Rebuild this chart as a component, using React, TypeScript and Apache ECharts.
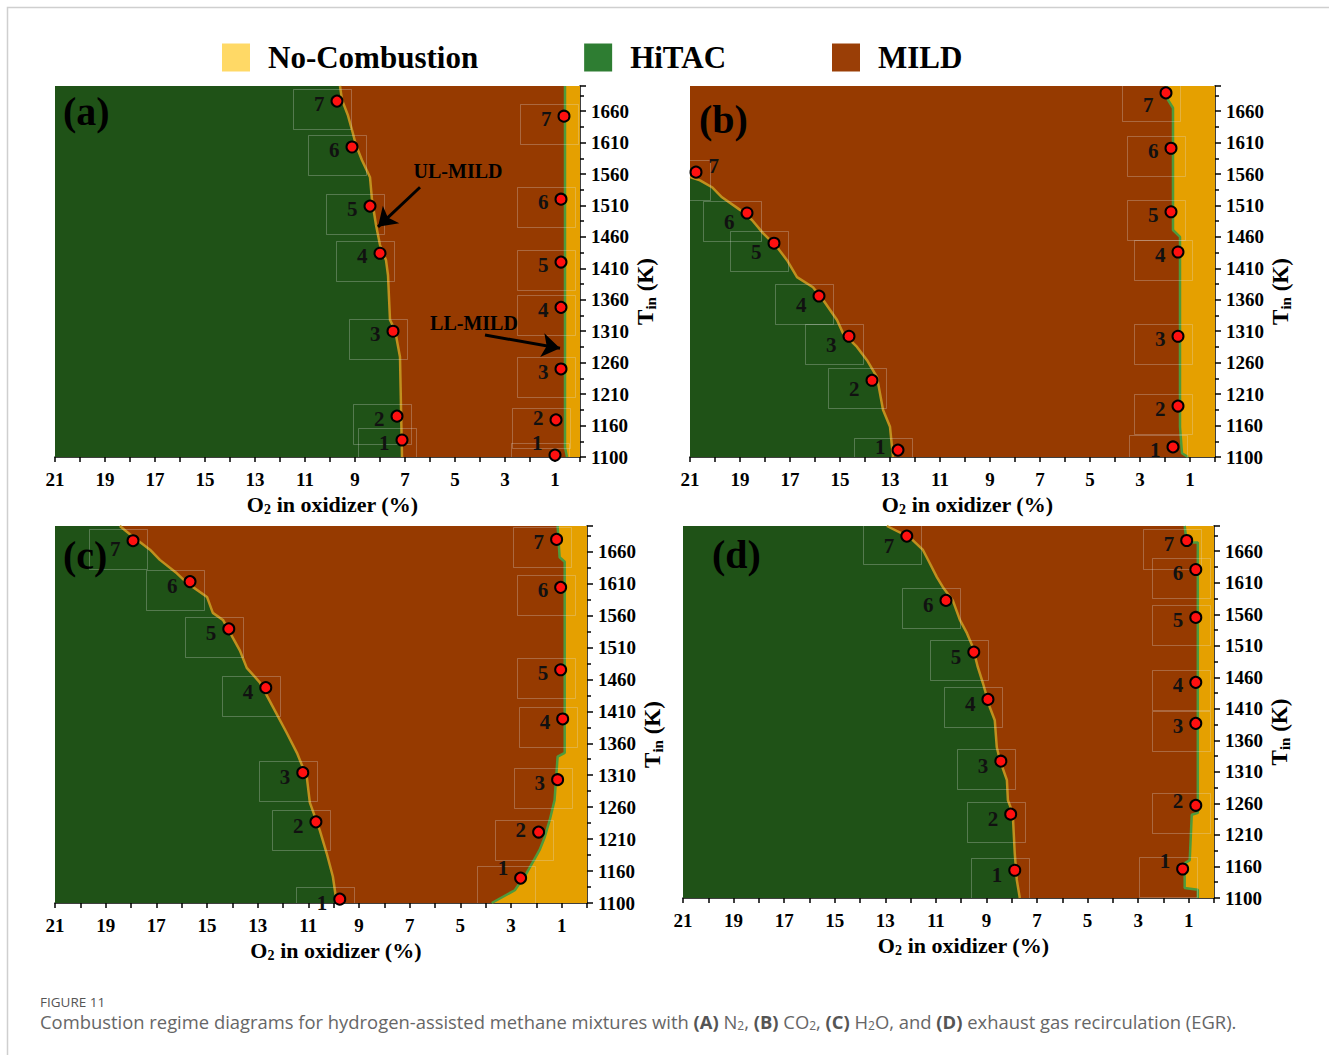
import React, { useEffect, useRef } from 'react';
import * as echarts from 'echarts';

const SERIF = '"Liberation Serif","Times New Roman",serif';
const SANS = '"Open Sans","Noto Sans",sans-serif';

// Temperature axis: bottom of every panel, ticks every 50 K
const T_BASE = 1110;
const T_TOP = 1700;
const T_LABELS = [1100, 1160, 1210, 1260, 1310, 1360, 1410, 1460, 1510, 1560, 1610, 1660];
const O2_MAX = 21;

const REGIMES = ['No-Combustion', 'HiTAC', 'MILD'];
const PANEL_TAGS = ['(a)', '(b)', '(c)', '(d)'];

// ---- Panel (a) N2
const A_HITAC_EDGE = [[9.6, 1700], [9.52, 1678], [9.28, 1653], [9.12, 1630], [8.96, 1606], [8.72, 1582], [8.4, 1555], [8.32, 1519], [8.16, 1479], [8.0, 1447], [7.76, 1423], [7.68, 1399], [7.6, 1328], [7.4, 1312], [7.2, 1269], [7.12, 1110]];
const A_NOCOMB_EDGE = [[0.6, 1700], [0.6, 1125], [0.52, 1110]];
const A_UL_DOTS = [[7.12, 1137], [7.32, 1175], [7.48, 1310], [8.0, 1434], [8.4, 1509], [9.12, 1603], [9.72, 1676]];
const A_LL_DOTS = [[1.0, 1113], [0.96, 1169], [0.76, 1250], [0.76, 1348], [0.76, 1420], [0.76, 1520], [0.64, 1652]];
const A_UL_ARROW = [[6.4, 1539], [8.08, 1476]];
const A_LL_ARROW = [[3.8, 1304], [0.8, 1283]];

// ---- Panel (b) CO2
const B_HITAC_EDGE = [[21, 1555], [20.6, 1550], [20.12, 1539], [19.72, 1523], [19.0, 1503], [18.52, 1487], [18.08, 1466], [17.52, 1444], [17.12, 1423], [16.72, 1396], [16.08, 1380], [15.68, 1360], [15.12, 1328], [14.88, 1307], [14.32, 1285], [13.92, 1264], [13.52, 1237], [13.28, 1185], [13.0, 1158], [12.88, 1110]];
const B_NOCOMB_EDGE = [[1.92, 1700], [1.88, 1678], [1.68, 1665], [1.68, 1471], [1.4, 1460], [1.4, 1158], [1.32, 1116], [1.08, 1110]];
const B_UL_DOTS = [[12.68, 1121], [13.72, 1232], [14.64, 1302], [15.84, 1366], [17.64, 1450], [18.72, 1498], [20.76, 1563]];
const B_LL_DOTS = [[1.68, 1126], [1.48, 1191], [1.48, 1302], [1.48, 1436], [1.76, 1500], [1.76, 1601], [1.96, 1689]];

// ---- Panel (c) H2O
const C_HITAC_EDGE = [[18.44, 1700], [17.92, 1683], [17.25, 1663], [16.86, 1647], [16.19, 1626], [15.79, 1611], [15.0, 1589], [14.77, 1564], [14.37, 1553], [13.7, 1505], [13.43, 1478], [12.91, 1455], [12.4, 1417], [11.85, 1376], [11.45, 1345], [11.06, 1307], [10.94, 1267], [10.55, 1224], [10.27, 1187], [10.03, 1151], [9.88, 1110]];
const C_NOCOMB_EDGE = [[1.16, 1700], [1.08, 1651], [0.88, 1644], [0.88, 1345], [1.16, 1339], [1.28, 1271], [1.47, 1240], [1.67, 1213], [1.87, 1193], [2.14, 1174], [2.38, 1157], [2.85, 1130], [3.76, 1110]];
const C_UL_DOTS = [[9.76, 1116], [10.7, 1237], [11.22, 1314], [12.68, 1447], [14.14, 1539], [15.67, 1613], [17.92, 1677]];
const C_LL_DOTS = [[2.62, 1149], [1.91, 1221], [1.16, 1303], [0.96, 1398], [1.04, 1475], [1.04, 1604], [1.2, 1679]];

// ---- Panel (d) EGR
const D_HITAC_EDGE = [[12.94, 1700], [12.03, 1682], [11.51, 1662], [11.24, 1641], [10.96, 1619], [10.72, 1603], [10.33, 1582], [10.05, 1551], [9.77, 1530], [9.54, 1508], [9.34, 1476], [9.14, 1451], [8.87, 1413], [8.67, 1392], [8.59, 1349], [8.47, 1329], [8.19, 1297], [8.15, 1265], [7.96, 1245], [7.88, 1181], [7.8, 1139], [7.68, 1110]];
const D_NOCOMB_EDGE = [[1.16, 1700], [1.08, 1674], [0.64, 1674], [0.64, 1245], [0.88, 1242], [0.96, 1170], [1.16, 1165], [1.16, 1126], [0.64, 1123], [0.64, 1110]];
const D_UL_DOTS = [[7.88, 1154], [8.04, 1243], [8.43, 1327], [8.94, 1425], [9.5, 1500], [10.6, 1582], [12.15, 1684]];
const D_LL_DOTS = [[1.24, 1156], [0.72, 1257], [0.72, 1387], [0.72, 1452], [0.72, 1555], [0.72, 1631], [1.08, 1677]];

// ---- layout & style (not data)
const GRIDS = [
  { left: 55, top: 86, width: 525, height: 371 },
  { left: 690, top: 86, width: 525, height: 371 },
  { left: 55, top: 526, width: 532, height: 377 },
  { left: 683, top: 526, width: 531, height: 372 },
];
const FILL = { nocomb: '#e5a000', hitac: '#1f5217', mild: '#963a00' };
const LEGEND_COLORS = ['#ffd966', '#2e7d32', '#9a3e06'];
const EDGE_HM = '#c0901e';
const EDGE_MN = '#4e9a3c';
// label vertical nudges per panel [UL, LL]
const LABEL_DY = [[3, 3], [9, 3], [4, 3], [5, 3]];

const PANELS = [
  { hitac: A_HITAC_EDGE, nocomb: A_NOCOMB_EDGE, ul: A_UL_DOTS, ll: A_LL_DOTS },
  { hitac: B_HITAC_EDGE, nocomb: B_NOCOMB_EDGE, ul: B_UL_DOTS, ll: B_LL_DOTS },
  { hitac: C_HITAC_EDGE, nocomb: C_NOCOMB_EDGE, ul: C_UL_DOTS, ll: C_LL_DOTS },
  { hitac: D_HITAC_EDGE, nocomb: D_NOCOMB_EDGE, ul: D_UL_DOTS, ll: D_LL_DOTS },
];

const toAxis = (p: number[]) => [p[0], p[1] - T_BASE];

function polySeries(name: string, color: string, pts: number[][], idx: number) {
  return {
    type: 'custom',
    name,
    xAxisIndex: idx,
    yAxisIndex: idx,
    clip: true,
    silent: true,
    z: 1,
    itemStyle: { color },
    data: [[O2_MAX, 0]],
    renderItem: (_params: any, api: any) => ({
      type: 'polygon',
      shape: { points: pts.map((p) => api.coord(toAxis(p))) },
      style: { fill: color },
    }),
  };
}

// faint annotation frames drawn around each numbered marker
function boxSeries(pts: number[][], idx: number) {
  return {
    type: 'custom',
    xAxisIndex: idx,
    yAxisIndex: idx,
    clip: true,
    silent: true,
    z: 4,
    data: pts.map(toAxis),
    renderItem: (_params: any, api: any) => {
      const c = api.coord([api.value(0), api.value(1)]);
      return {
        type: 'rect',
        shape: { x: Math.round(c[0]) - 43.5, y: Math.round(c[1]) - 11.5, width: 58, height: 40 },
        style: { fill: 'none', stroke: 'rgba(225,225,225,0.28)', lineWidth: 1 },
      };
    },
  };
}

function edgeSeries(color: string, pts: number[][], idx: number) {
  return {
    type: 'line',
    xAxisIndex: idx,
    yAxisIndex: idx,
    silent: true,
    z: 3,
    symbol: 'none',
    lineStyle: { color, width: 2.5 },
    data: pts.map(toAxis),
  };
}

function dotSeries(pts: number[][], idx: number, dy: number, overrides: Record<number, any> = {}) {
  return {
    type: 'scatter',
    xAxisIndex: idx,
    yAxisIndex: idx,
    silent: true,
    z: 5,
    symbolSize: 11,
    itemStyle: { color: '#ff1010', borderColor: '#000', borderWidth: 2, opacity: 1 },
    label: {
      show: true,
      position: 'left',
      distance: 6,
      offset: [0, dy],
      formatter: (p: any) => String(p.dataIndex + 1),
      fontFamily: SERIF,
      fontWeight: 700,
      fontSize: 21,
      color: '#111',
    },
    data: pts.map((p, i) => {
      const v = toAxis(p);
      return overrides[i] ? { value: v, label: overrides[i] } : v;
    }),
  };
}

function buildOption() {
  const series: any[] = [];
  const xAxis: any[] = [];
  const yAxis: any[] = [];
  PANELS.forEach((pn, i) => {
    const greenPoly = [[O2_MAX, pn.hitac[0][1]], ...pn.hitac, [O2_MAX, T_BASE]];
    const yellowPoly = [[0, pn.nocomb[0][1]], ...pn.nocomb, [0, T_BASE]];
    const brownPoly = [[O2_MAX, T_BASE], [0, T_BASE], [0, T_TOP], [O2_MAX, T_TOP]];
    series.push(polySeries('MILD', FILL.mild, brownPoly, i));
    series.push(polySeries('HiTAC', FILL.hitac, greenPoly, i));
    series.push(polySeries('No-Combustion', FILL.nocomb, yellowPoly, i));
    series.push(edgeSeries(EDGE_HM, pn.hitac, i));
    series.push(edgeSeries(EDGE_MN, pn.nocomb, i));
    series.push(boxSeries(pn.ul, i));
    series.push(boxSeries(pn.ll, i));

    const ulOver: Record<number, any> = {};
    const llOver: Record<number, any> = {};
    if (i === 0) { llOver[0] = { offset: [0, -12] }; llOver[1] = { offset: [0, -2] }; }
    if (i === 1) { ulOver[6] = { position: 'right', offset: [0, -6] }; ulOver[0] = { offset: [0, -3] }; llOver[6] = { offset: [0, 12] }; }
    if (i === 2) { llOver[0] = { offset: [0, -10] }; llOver[1] = { offset: [0, -2] }; ulOver[6] = { offset: [0, 8] }; }
    if (i === 3) { llOver[0] = { offset: [0, -8] }; llOver[1] = { offset: [0, -4] }; ulOver[6] = { offset: [0, 10] }; }
    series.push(dotSeries(pn.ul, i, LABEL_DY[i][0], ulOver));
    const ll: any = dotSeries(pn.ll, i, LABEL_DY[i][1], llOver);
    if (i === 0) {
      ll.markLine = {
        silent: true,
        symbol: ['none', 'arrow'],
        symbolSize: 18,
        label: { show: false },
        lineStyle: { color: '#000', width: 3, type: 'solid' },
        data: [
          [{ coord: toAxis(A_UL_ARROW[0]) }, { coord: toAxis(A_UL_ARROW[1]) }],
          [{ coord: toAxis(A_LL_ARROW[0]) }, { coord: toAxis(A_LL_ARROW[1]) }],
        ],
      };
    }
    series.push(ll);

    xAxis.push({
      gridIndex: i,
      type: 'value',
      min: 0,
      max: O2_MAX,
      interval: 1,
      inverse: true,
      axisLine: { show: true, onZero: false, lineStyle: { color: '#000', width: 1.5 } },
      axisTick: { show: true, length: 5, lineStyle: { color: '#000', width: 1.5 } },
      splitLine: { show: false },
      axisLabel: {
        margin: 13,
        fontFamily: SERIF,
        fontWeight: 'bold',
        fontSize: 19,
        color: '#000',
        formatter: (v: number) => (Math.round(v) % 2 === 1 ? String(Math.round(v)) : ''),
      },
      name: 'O{s|2} in oxidizer (%)',
      nameLocation: 'middle',
      nameGap: 35,
      nameTextStyle: {
        fontFamily: SERIF,
        fontWeight: 'bold',
        fontSize: 22,
        color: '#000',
        lineHeight: 24,
        padding: [0, 0, 0, 30],
        rich: { s: { fontFamily: SERIF, fontWeight: 'bold', fontSize: 14, color: '#000', verticalAlign: 'bottom', lineHeight: 14 } },
      },
    });
    yAxis.push({
      gridIndex: i,
      type: 'value',
      position: 'right',
      min: 0,
      max: T_TOP - T_BASE,
      interval: 50,
      axisLine: { show: true, onZero: false, lineStyle: { color: '#000', width: 1.5 } },
      axisTick: { show: true, length: 6, lineStyle: { color: '#000', width: 1.5 } },
      minorTick: { show: true, splitNumber: 2, length: 4, lineStyle: { color: '#000', width: 1.5 } },
      splitLine: { show: false },
      minorSplitLine: { show: false },
      axisLabel: {
        margin: 11,
        fontFamily: SERIF,
        fontWeight: 'bold',
        fontSize: 19,
        color: '#000',
        formatter: (v: number) => {
          const k = Math.round(v / 50);
          return Math.abs(v - k * 50) < 1e-6 && k < T_LABELS.length ? String(T_LABELS[k]) : '';
        },
      },
      name: 'T{s|in} (K)',
      nameLocation: 'middle',
      nameRotate: 90,
      nameGap: 52,
      nameTextStyle: {
        fontFamily: SERIF,
        fontWeight: 'bold',
        fontSize: 23,
        color: '#000',
        lineHeight: 26,
        padding: [0, 40, 0, 0],
        rich: { s: { fontFamily: SERIF, fontWeight: 'bold', fontSize: 15, color: '#000', verticalAlign: 'bottom', lineHeight: 14 } },
      },
    });
  });

  const tagPos = [[63, 91], [699, 99], [63, 535], [712, 534]];
  const graphic: any[] = [
    { type: 'rect', silent: true, shape: { x: 7.5, y: 7.5, width: 1400, height: 1100 }, style: { fill: 'none', stroke: '#cfcfcf', lineWidth: 1.5 }, z: -1 },
    ...PANEL_TAGS.map((t, i) => ({
      type: 'text', silent: true, x: tagPos[i][0], y: tagPos[i][1], z: 100,
      style: { text: t, font: `bold 40px ${SERIF}`, fill: '#000' },
    })),
    { type: 'text', silent: true, x: 458, y: 171, z: 100, style: { text: 'UL-MILD', font: `bold 20px ${SERIF}`, fill: '#000', align: 'center', verticalAlign: 'middle' } },
    { type: 'text', silent: true, x: 474, y: 323, z: 100, style: { text: 'LL-MILD', font: `bold 20px ${SERIF}`, fill: '#000', align: 'center', verticalAlign: 'middle' } },
    { type: 'text', silent: true, x: 40, y: 995, style: { text: 'FIGURE 11', font: `13.5px ${SANS}`, fill: '#555', lineHeight: 14 } },
    {
      type: 'text', silent: true, x: 40, y: 1011,
      style: {
        text: 'Combustion regime diagrams for hydrogen-assisted methane mixtures with {b|(A)} N{s|2}, {b|(B)} CO{s|2}, {b|(C)} H{s|2}O, and {b|(D)} exhaust gas recirculation (EGR).',
        font: `18.4px ${SANS}`,
        fill: '#666',
        lineHeight: 20,
        rich: {
          b: { fontFamily: SANS, fontSize: 18.4, fontWeight: 'bold', fill: '#555', lineHeight: 20 },
          s: { fontFamily: SANS, fontSize: 12, fill: '#666', verticalAlign: 'bottom', lineHeight: 12 },
        },
      },
    },
  ];

  return {
    animation: false,
    backgroundColor: '#fff',
    grid: GRIDS.map((g) => ({ ...g, containLabel: false })),
    legend: {
      data: REGIMES.map((n, i) => ({ name: n, itemStyle: { color: LEGEND_COLORS[i] } })),
      left: 217,
      top: 37,
      icon: 'rect',
      itemWidth: 28,
      itemHeight: 28,
      itemGap: 106,
      selectedMode: false,
      textStyle: { fontFamily: SERIF, fontWeight: 'bold', fontSize: 31, color: '#000', padding: [0, 0, 0, 13] },
    },
    xAxis,
    yAxis,
    series,
    graphic,
  };
}

export default function App() {
  const ref = useRef<HTMLDivElement>(null);
  useEffect(() => {
    const chart = echarts.init(ref.current!, null, { renderer: 'svg' });
    chart.setOption(buildOption() as any);
    return () => chart.dispose();
  }, []);
  return (
    <div
      ref={ref}
      style={{ position: 'fixed', left: 0, top: 0, width: 1329, height: 1055, background: '#fff' }}
    />
  );
}
